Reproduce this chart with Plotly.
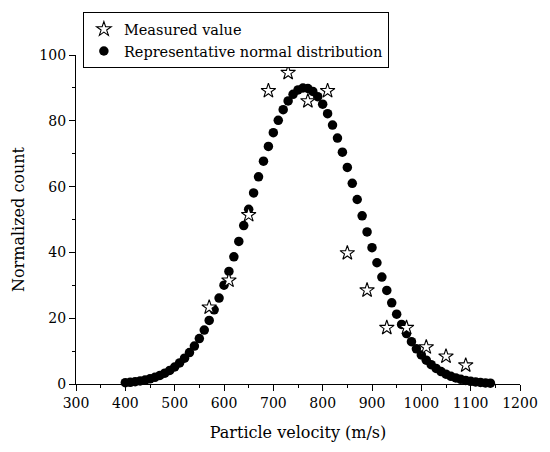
import plotly.graph_objects as go

# Measured values (stars)
measured_v = [570, 610, 650, 690, 730, 770, 810, 850, 890, 930, 970, 1010, 1050, 1090]
measured_n = [23.3, 31.5, 51.4, 89.1, 94.6, 86.0, 89.1, 39.8, 28.5, 17.1, 17.1, 11.2, 8.4, 5.7]

# Representative normal distribution (dots)
normal_v = list(range(400, 1141, 10))
normal_n = [0.39, 0.52, 0.70, 0.92, 1.21, 1.57, 2.03, 2.59, 3.29, 4.14,
            5.17, 6.39, 7.84, 9.55, 11.53, 13.81, 16.40, 19.31, 22.55, 26.13,
            30.02, 34.21, 38.66, 43.34, 48.17, 53.10, 58.06, 62.96, 67.71, 72.22,
            76.38, 80.14, 83.38, 86.04, 88.06, 89.37, 89.97, 89.82, 88.93, 87.33,
            85.05, 82.15, 78.70, 74.76, 70.45, 65.83, 61.01, 56.08, 51.12, 46.21,
            41.44, 36.85, 32.50, 28.43, 24.66, 21.22, 18.10, 15.32, 12.86, 10.70,
            8.84, 7.24, 5.88, 4.73, 3.78, 3.00, 2.35, 1.83, 1.42, 1.08,
            0.82, 0.62, 0.46, 0.34, 0.25]

x_ticks = [300, 400, 500, 600, 700, 800, 900, 1000, 1100, 1200]
y_ticks = [0, 20, 40, 60, 80, 100]

FONT = "DejaVu Serif"

fig = go.Figure()
fig.add_trace(go.Scatter(
    x=normal_v, y=normal_n, mode="markers",
    name="Representative normal distribution",
    marker=dict(symbol="circle", size=9.5, color="black"),
    legendrank=2, cliponaxis=False,
))
fig.add_trace(go.Scatter(
    x=measured_v, y=measured_n, mode="markers",
    name="Measured value",
    marker=dict(symbol="star", size=11, color="white",
                line=dict(color="black", width=1.1)),
    legendrank=1, cliponaxis=False,
))

fig.update_layout(
    width=550, height=452,
    margin=dict(l=76, r=22, t=52, b=68),
    paper_bgcolor="white", plot_bgcolor="white",
    font=dict(family=FONT, size=14, color="black"),
    legend=dict(
        x=0.0155, y=1.13, xanchor="left", yanchor="top",
        bordercolor="black", borderwidth=1, bgcolor="white",
        font=dict(family=FONT, size=14.5), tracegroupgap=0,
        itemwidth=30,
    ),
    xaxis=dict(
        range=[300, 1200], tickvals=x_ticks, ticktext=[str(v) for v in x_ticks],
        showgrid=False, zeroline=False, showline=True, linecolor="black", linewidth=1.2,
        ticks="outside", ticklen=6, tickwidth=1.2, tickcolor="black",
        minor=dict(dtick=50, ticks="outside", ticklen=3, tickwidth=1, tickcolor="black"),
        tickfont=dict(family=FONT, size=14),
        title=dict(text="Particle velocity (m/s)", font=dict(family=FONT, size=16), standoff=16),
    ),
    yaxis=dict(
        range=[0, 100], tickvals=y_ticks, ticktext=[str(v) for v in y_ticks],
        showgrid=False, zeroline=False, showline=True, linecolor="black", linewidth=1.2,
        ticks="outside", ticklen=6, tickwidth=1.2, tickcolor="black",
        minor=dict(dtick=10, ticks="outside", ticklen=3, tickwidth=1, tickcolor="black"),
        tickfont=dict(family=FONT, size=14),
        title=dict(text="Normalized count", font=dict(family=FONT, size=16), standoff=10),
    ),
)

fig.write_html("out.html")
